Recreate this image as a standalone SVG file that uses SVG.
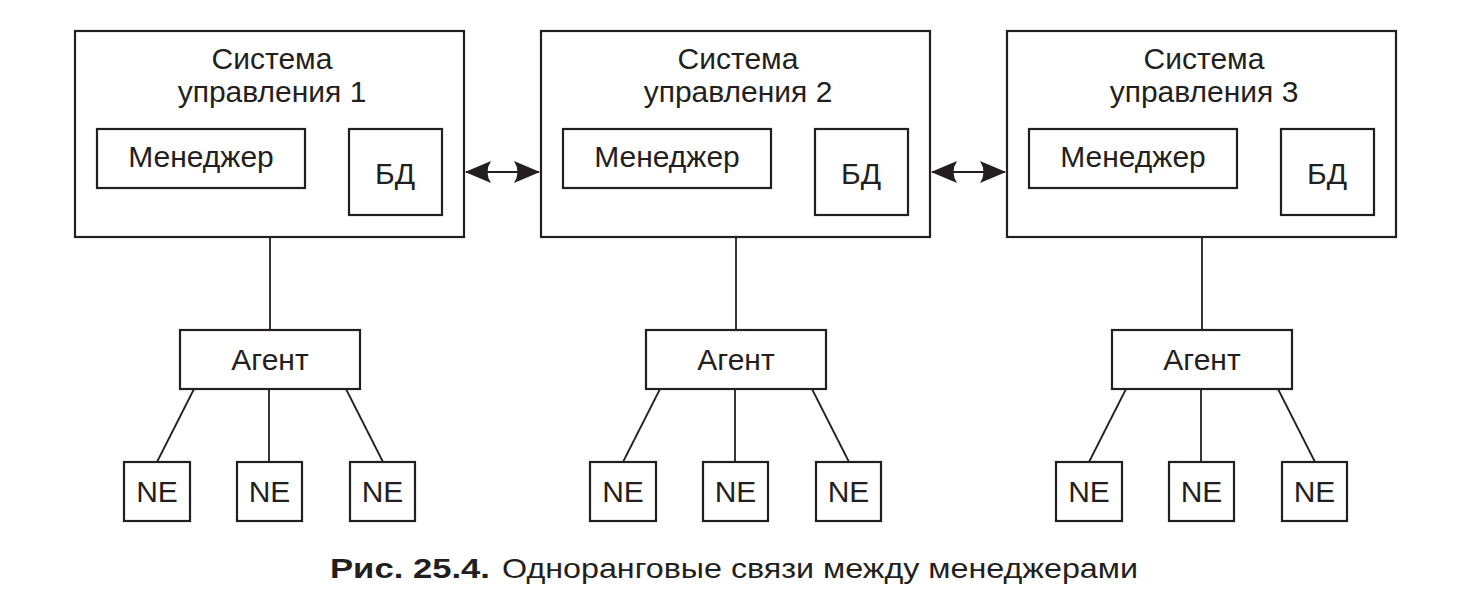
<svg xmlns="http://www.w3.org/2000/svg" width="1473" height="613" viewBox="0 0 1473 613">
<style>
.box{fill:#fff;stroke:#231f20;stroke-width:2.2}
.ln{stroke:#231f20;stroke-width:1.8;fill:none}
.t{font-family:"Liberation Sans",Arial,sans-serif;font-size:30px;fill:#231f20;text-anchor:middle}
.cap{font-family:"Liberation Sans",Arial,sans-serif;font-size:28px;fill:#231f20}
</style>
<defs>
<marker id="ah" viewBox="0 0 26 22" refX="25" refY="11" markerWidth="26" markerHeight="22" markerUnits="userSpaceOnUse" orient="auto-start-reverse">
<path d="M26,11 L0,0 Q7,11 0,22 Z" fill="#231f20"/>
</marker>
<g id="sys">
<rect class="box" x="75" y="31" width="389" height="206"/>
<rect class="box" x="97" y="129" width="208" height="59"/>
<rect class="box" x="349" y="129" width="93" height="86"/>
<text class="t" x="201" y="167">Менеджер</text>
<text class="t" x="395" y="184">БД</text>
</g>
</defs>
<g id="connectors">
<line class="ln" x1="270" y1="188" x2="270" y2="330"/>
<line class="ln" x1="194" y1="389" x2="157" y2="462"/>
<line class="ln" x1="269" y1="389" x2="269" y2="462"/>
<line class="ln" x1="346" y1="389" x2="383" y2="462"/>
<line class="ln" x1="736" y1="188" x2="736" y2="330"/>
<line class="ln" x1="660" y1="389" x2="623" y2="462"/>
<line class="ln" x1="735" y1="389" x2="735" y2="462"/>
<line class="ln" x1="812" y1="389" x2="849" y2="462"/>
<line class="ln" x1="1202" y1="188" x2="1202" y2="330"/>
<line class="ln" x1="1126" y1="389" x2="1089" y2="462"/>
<line class="ln" x1="1201" y1="389" x2="1201" y2="462"/>
<line class="ln" x1="1278" y1="389" x2="1315" y2="462"/>
<line class="ln" x1="466" y1="172" x2="539" y2="172" marker-start="url(#ah)" marker-end="url(#ah)"/>
<line class="ln" x1="932" y1="172" x2="1005" y2="172" marker-start="url(#ah)" marker-end="url(#ah)"/>
</g>
<g id="system1">
<use href="#sys"/>
<text class="t" x="272" y="69">Система</text>
<text class="t" x="272" y="102">управления 1</text>
</g>
<g id="system2" transform="translate(466,0)">
<use href="#sys"/>
<text class="t" x="272" y="69">Система</text>
<text class="t" x="272" y="102">управления 2</text>
</g>
<g id="system3" transform="translate(932,0)">
<use href="#sys"/>
<text class="t" x="272" y="69">Система</text>
<text class="t" x="272" y="102">управления 3</text>
</g>
<g id="agent1"><rect class="box" x="180" y="330" width="180" height="59"/><text class="t" x="270" y="370">Агент</text></g>
<g id="agent2"><rect class="box" x="646" y="330" width="180" height="59"/><text class="t" x="736" y="370">Агент</text></g>
<g id="agent3"><rect class="box" x="1112" y="330" width="180" height="59"/><text class="t" x="1202" y="370">Агент</text></g>
<g id="ne1a"><rect class="box" x="124" y="462" width="66" height="59"/><text class="t" x="157" y="502">NE</text></g>
<g id="ne1b"><rect class="box" x="237" y="462" width="65" height="59"/><text class="t" x="269.5" y="502">NE</text></g>
<g id="ne1c"><rect class="box" x="350" y="462" width="65" height="59"/><text class="t" x="382.5" y="502">NE</text></g>
<g id="ne2a"><rect class="box" x="590" y="462" width="66" height="59"/><text class="t" x="623" y="502">NE</text></g>
<g id="ne2b"><rect class="box" x="703" y="462" width="65" height="59"/><text class="t" x="735.5" y="502">NE</text></g>
<g id="ne2c"><rect class="box" x="816" y="462" width="65" height="59"/><text class="t" x="848.5" y="502">NE</text></g>
<g id="ne3a"><rect class="box" x="1056" y="462" width="66" height="59"/><text class="t" x="1089" y="502">NE</text></g>
<g id="ne3b"><rect class="box" x="1169" y="462" width="65" height="59"/><text class="t" x="1201.5" y="502">NE</text></g>
<g id="ne3c"><rect class="box" x="1282" y="462" width="65" height="59"/><text class="t" x="1314.5" y="502">NE</text></g>
<g id="caption">
<text class="cap" x="330" y="578" font-weight="bold" textLength="160" lengthAdjust="spacingAndGlyphs">Рис. 25.4.</text>
<text class="cap" x="502" y="578" textLength="636" lengthAdjust="spacingAndGlyphs">Одноранговые связи между менеджерами</text>
</g>
</svg>
